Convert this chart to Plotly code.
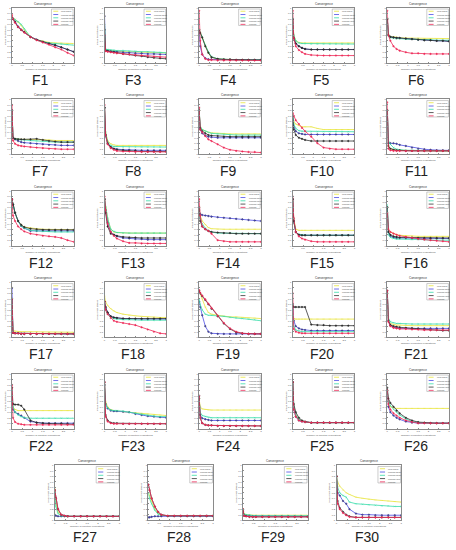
import plotly.graph_objects as go

# iteration grid (x 10^5 function evaluations) shared by every panel
X = [0, 0.05, 0.15, 0.3, 0.45, 0.6, 0.9, 1.2, 1.5, 1.8, 2.1, 2.4, 2.7, 3.0]

ALGOS = ["PSO-sCSO", "MSCSO-gbest", "MSCSO-pbest", "MSCSO-rand", "MSCSO"]
COLORS = ["#e9e43a", "#4b4be6", "#35dca8", "#333333", "#ee2a58"]
SYMBOLS = ["line-ew", "circle", "x-thin", "circle", "circle"]

# normalised mean best fitness per function: Y, B, G, K, R series
F1 = dict(Y=[.82, .81, .79, .74, .68, .6, .47, .42, .39, .37, .36, .36, .35, .35],
          B=[.82, .8, .75, .66, .6, .56, .47, .42, .38, .35, .32, .28, .24, .2],
          G=[.82, .81, .79, .75, .7, .62, .47, .41, .38, .36, .35, .34, .33, .32],
          K=[.82, .8, .74, .65, .6, .56, .47, .42, .38, .35, .32, .28, .24, .2],
          R=[.87, .8, .73, .65, .6, .55, .47, .41, .37, .33, .28, .24, .18, .13])
F3 = dict(Y=[.7, .24, .23, .22, .22, .21, .2, .2, .19, .19, .19, .18, .18, .18],
          B=[.85, .23, .22, .21, .2, .2, .19, .18, .17, .17, .16, .16, .15, .15],
          G=[.68, .24, .24, .23, .23, .22, .22, .21, .21, .2, .2, .19, .19, .18],
          K=[.6, .22, .21, .2, .19, .18, .16, .15, .13, .12, .1, .09, .08, .07],
          R=[.5, .21, .2, .19, .18, .17, .16, .15, .14, .13, .12, .11, .1, .1])
F4 = dict(Y=[.6, .55, .45, .3, .18, .1, .07, .06, .06, .05, .05, .05, .05, .05],
          B=[.6, .3, .15, .08, .06, .06, .05, .05, .05, .05, .05, .05, .05, .05],
          G=[.6, .55, .48, .32, .2, .11, .07, .06, .06, .05, .05, .05, .05, .05],
          K=[.6, .54, .46, .3, .18, .1, .07, .06, .06, .05, .05, .05, .05, .05],
          R=[.95, .4, .15, .07, .05, .05, .04, .04, .04, .04, .04, .04, .04, .04])
F5 = dict(Y=[.8, .5, .4, .37, .36, .36, .36, .36, .36, .36, .36, .36, .36, .36],
          B=[.8, .45, .35, .3, .27, .25, .24, .24, .24, .24, .24, .24, .24, .24],
          G=[.8, .5, .4, .36, .35, .35, .34, .34, .34, .34, .34, .34, .34, .34],
          K=[.8, .45, .35, .3, .27, .25, .24, .24, .24, .24, .24, .24, .24, .24],
          R=[.95, .45, .3, .23, .19, .16, .14, .13, .13, .13, .13, .13, .13, .13])
F6 = dict(Y=[.8, .52, .48, .47, .46, .46, .45, .45, .45, .44, .44, .44, .44, .44],
          B=[.8, .5, .47, .46, .45, .45, .44, .43, .42, .41, .41, .4, .4, .39],
          G=[.8, .5, .46, .45, .44, .44, .43, .43, .42, .42, .42, .41, .41, .41],
          K=[.8, .5, .47, .46, .45, .45, .44, .43, .42, .41, .41, .4, .4, .39],
          R=[.95, .5, .4, .3, .25, .22, .19, .17, .17, .16, .16, .16, .16, .16])
F7 = dict(Y=[.8, .3, .28, .27, .27, .27, .27, .27, .26, .26, .25, .25, .25, .25],
          B=[.8, .3, .27, .24, .22, .21, .2, .19, .18, .17, .17, .16, .16, .16],
          G=[.8, .3, .28, .27, .26, .26, .25, .24, .23, .22, .22, .22, .22, .22],
          K=[.8, .3, .28, .27, .27, .27, .27, .28, .26, .24, .23, .22, .22, .22],
          R=[.9, .25, .19, .16, .15, .14, .13, .12, .11, .1, .1, .09, .09, .09])
F8 = dict(Y=[.85, .4, .25, .19, .17, .16, .16, .16, .16, .16, .16, .16, .16, .16],
          B=[.85, .35, .2, .13, .1, .09, .08, .08, .07, .07, .07, .07, .07, .07],
          G=[.85, .4, .22, .16, .14, .14, .13, .13, .13, .13, .13, .13, .13, .13],
          K=[.85, .35, .2, .13, .1, .08, .07, .06, .06, .05, .05, .05, .05, .05],
          R=[.9, .35, .18, .11, .08, .06, .05, .05, .04, .04, .04, .04, .04, .04])
F9 = dict(Y=[.8, .5, .45, .42, .4, .39, .38, .38, .37, .37, .37, .37, .37, .37],
          B=[.8, .45, .38, .34, .32, .31, .3, .3, .3, .3, .3, .3, .3, .3],
          G=[.85, .5, .45, .42, .4, .38, .37, .36, .35, .35, .35, .35, .35, .35],
          K=[.8, .48, .42, .38, .35, .34, .33, .32, .32, .32, .32, .32, .32, .32],
          R=[.85, .45, .4, .33, .27, .24, .18, .12, .08, .06, .05, .04, .04, .03])
F10 = dict(Y=[.7, .6, .55, .52, .5, .5, .5, .47, .45, .45, .45, .45, .45, .45],
           B=[.7, .5, .42, .38, .37, .36, .36, .36, .36, .36, .36, .36, .36, .36],
           G=[.7, .55, .47, .43, .42, .42, .41, .41, .41, .41, .41, .41, .41, .41],
           K=[.7, .45, .35, .3, .28, .26, .24, .24, .24, .24, .24, .24, .24, .24],
           R=[.75, .7, .62, .55, .48, .42, .32, .2, .12, .1, .09, .09, .09, .09])
F11 = dict(Y=[.8, .15, .1, .08, .07, .07, .07, .06, .06, .06, .06, .06, .06, .06],
           B=[.8, .2, .2, .2, .19, .17, .15, .12, .1, .09, .08, .07, .07, .07],
           G=[.8, .25, .18, .12, .09, .08, .07, .07, .07, .06, .06, .06, .06, .06],
           K=[.8, .15, .1, .08, .07, .07, .06, .06, .06, .06, .06, .06, .06, .06],
           R=[.95, .1, .07, .06, .06, .06, .06, .06, .06, .06, .06, .06, .06, .06])
F12 = dict(Y=[.85, .75, .6, .45, .38, .34, .32, .31, .3, .3, .3, .3, .29, .29],
           B=[.85, .75, .6, .45, .36, .32, .27, .27, .27, .27, .27, .27, .27, .27],
           G=[.85, .75, .6, .45, .36, .32, .28, .27, .26, .26, .25, .25, .25, .25],
           K=[.85, .75, .6, .45, .38, .34, .31, .3, .29, .29, .29, .29, .29, .29],
           R=[.85, .55, .45, .35, .3, .26, .22, .2, .18, .17, .16, .14, .1, .07])
F13 = dict(Y=[.85, .7, .5, .3, .25, .24, .23, .23, .23, .23, .23, .23, .23, .23],
           B=[.85, .65, .42, .25, .2, .17, .14, .13, .12, .12, .11, .11, .11, .11],
           G=[.85, .7, .5, .3, .26, .24, .23, .23, .23, .23, .23, .23, .23, .23],
           K=[.85, .6, .35, .22, .2, .18, .16, .15, .15, .14, .14, .14, .14, .14],
           R=[.9, .65, .4, .25, .18, .13, .08, .05, .05, .04, .04, .04, .04, .04])
F14 = dict(Y=[.7, .55, .45, .38, .33, .31, .3, .3, .3, .3, .3, .3, .3, .3],
           B=[.65, .58, .56, .55, .54, .53, .52, .51, .5, .49, .48, .47, .46, .45],
           G=[.7, .5, .4, .32, .27, .25, .23, .23, .23, .22, .22, .22, .22, .22],
           K=[.7, .45, .35, .3, .27, .25, .24, .23, .23, .22, .22, .22, .22, .22],
           R=[.85, .55, .35, .3, .27, .22, .1, .08, .07, .07, .07, .07, .07, .07])
F15 = dict(Y=[.85, .5, .3, .28, .28, .28, .28, .28, .28, .28, .28, .28, .28, .28],
           B=[.85, .45, .25, .2, .19, .19, .19, .19, .19, .19, .19, .19, .19, .19],
           G=[.85, .45, .25, .2, .2, .19, .19, .19, .19, .19, .19, .19, .19, .19],
           K=[.85, .45, .25, .2, .19, .19, .19, .19, .19, .19, .19, .19, .19, .19],
           R=[.9, .5, .25, .17, .13, .11, .08, .07, .07, .07, .07, .07, .07, .07])
F16 = dict(Y=[.7, .3, .25, .22, .2, .19, .18, .18, .17, .17, .17, .17, .17, .17],
           B=[.7, .25, .18, .15, .14, .14, .14, .13, .13, .13, .13, .13, .13, .13],
           G=[.75, .2, .15, .13, .12, .12, .12, .11, .11, .11, .1, .1, .1, .1],
           K=[.7, .25, .2, .17, .16, .15, .15, .15, .14, .14, .14, .14, .14, .14],
           R=[.6, .3, .25, .22, .2, .18, .16, .14, .12, .11, .1, .09, .08, .07])
F17 = dict(Y=[.6, .12, .11, .1, .1, .1, .1, .1, .09, .09, .09, .09, .09, .09],
           B=[.9, .08, .07, .07, .06, .06, .06, .06, .06, .06, .06, .06, .06, .06],
           G=[.7, .08, .07, .07, .06, .06, .06, .06, .06, .06, .06, .06, .06, .06],
           K=[.7, .08, .07, .07, .06, .06, .06, .06, .06, .06, .06, .06, .06, .06],
           R=[.7, .08, .07, .07, .06, .06, .06, .06, .06, .06, .06, .06, .06, .06])
F18 = dict(Y=[.75, .65, .58, .52, .48, .45, .42, .4, .39, .38, .37, .37, .36, .36],
           B=[.65, .55, .45, .38, .36, .35, .34, .34, .33, .33, .33, .33, .33, .33],
           G=[.6, .5, .42, .36, .34, .33, .32, .32, .31, .31, .31, .31, .31, .31],
           K=[.65, .55, .45, .38, .36, .35, .34, .34, .34, .34, .34, .34, .34, .34],
           R=[.65, .5, .42, .35, .3, .28, .26, .24, .22, .18, .14, .1, .07, .06])
F19 = dict(Y=[.85, .8, .7, .55, .45, .42, .4, .38, .37, .37, .36, .35, .35, .34],
           B=[.65, .55, .4, .2, .1, .07, .06, .06, .06, .06, .06, .06, .06, .06],
           G=[.7, .6, .5, .42, .4, .4, .39, .38, .36, .35, .34, .33, .32, .3],
           K=[.85, .8, .75, .68, .6, .52, .38, .25, .15, .09, .07, .06, .06, .06],
           R=[.86, .81, .76, .69, .61, .53, .39, .26, .16, .1, .07, .06, .06, .06])
F20 = dict(Y=[.4, .34, .33, .33, .33, .33, .33, .33, .33, .33, .33, .33, .33, .33],
           B=[.6, .3, .2, .16, .14, .13, .12, .12, .12, .12, .12, .12, .12, .12],
           G=[.5, .2, .13, .11, .1, .1, .1, .1, .1, .1, .1, .1, .1, .1],
           K=[.6, .55, .55, .55, .55, .55, .23, .22, .22, .21, .21, .21, .21, .21],
           R=[.8, .15, .1, .08, .07, .07, .07, .07, .07, .07, .07, .07, .07, .07])
F21 = dict(Y=[.8, .3, .25, .23, .22, .22, .21, .21, .21, .21, .21, .21, .21, .21],
           B=[.8, .3, .22, .18, .17, .16, .16, .16, .16, .16, .16, .16, .16, .16],
           G=[.8, .35, .28, .26, .25, .25, .24, .24, .24, .24, .24, .24, .24, .24],
           K=[.85, .3, .22, .2, .19, .18, .17, .16, .15, .14, .13, .13, .12, .12],
           R=[.85, .28, .2, .17, .16, .15, .15, .14, .14, .13, .13, .13, .13, .13])
F22 = dict(Y=[.6, .4, .35, .33, .33, .33, .33, .33, .33, .33, .33, .33, .33, .33],
           B=[.6, .35, .3, .27, .24, .2, .13, .11, .1, .1, .1, .1, .1, .1],
           G=[.6, .4, .3, .25, .22, .2, .19, .19, .19, .19, .19, .19, .19, .19],
           K=[.75, .45, .44, .44, .42, .35, .15, .11, .1, .09, .09, .09, .08, .08],
           R=[.8, .2, .12, .09, .08, .07, .07, .07, .07, .07, .07, .07, .07, .07])
F23 = dict(Y=[.8, .5, .4, .35, .33, .32, .31, .3, .29, .28, .27, .26, .25, .24],
           B=[.8, .45, .37, .33, .32, .32, .31, .3, .27, .25, .23, .22, .21, .2],
           G=[.8, .45, .38, .34, .33, .33, .32, .3, .28, .26, .24, .23, .22, .22],
           K=[.85, .25, .15, .11, .1, .1, .09, .09, .09, .09, .09, .09, .09, .09],
           R=[.85, .22, .13, .1, .09, .09, .09, .09, .09, .09, .09, .09, .09, .09])
F24 = dict(Y=[.55, .4, .36, .35, .34, .34, .34, .34, .34, .34, .34, .34, .34, .34],
           B=[.55, .25, .19, .17, .16, .15, .15, .15, .15, .15, .15, .15, .15, .15],
           G=[.55, .3, .24, .22, .21, .2, .2, .2, .2, .2, .2, .2, .2, .2],
           K=[.6, .2, .1, .07, .06, .06, .05, .05, .05, .05, .05, .05, .05, .05],
           R=[.6, .2, .1, .07, .06, .06, .05, .05, .05, .05, .05, .05, .05, .05])
F25 = dict(Y=[.85, .4, .25, .17, .14, .12, .11, .11, .11, .11, .11, .11, .11, .11],
           B=[.85, .35, .22, .15, .13, .12, .11, .11, .11, .11, .11, .11, .11, .11],
           G=[.85, .4, .25, .17, .14, .12, .11, .11, .11, .11, .11, .11, .11, .11],
           K=[.85, .45, .3, .2, .15, .13, .11, .11, .11, .11, .11, .11, .11, .11],
           R=[.85, .35, .22, .15, .13, .12, .11, .11, .11, .11, .11, .11, .11, .11])
F26 = dict(Y=[.7, .45, .4, .38, .37, .37, .37, .37, .37, .37, .37, .37, .37, .37],
           B=[.7, .4, .3, .24, .2, .17, .13, .11, .1, .1, .1, .1, .1, .1],
           G=[.7, .5, .42, .35, .3, .25, .18, .13, .11, .1, .1, .1, .1, .1],
           K=[.75, .55, .47, .4, .33, .28, .2, .15, .12, .11, .1, .1, .1, .1],
           R=[.7, .45, .35, .28, .24, .2, .15, .12, .1, .1, .1, .1, .1, .1])
F27 = dict(Y=[.6, .3, .15, .08, .07, .07, .07, .07, .07, .07, .07, .07, .07, .07],
           B=[.1, .08, .07, .07, .07, .07, .07, .07, .07, .07, .07, .07, .07, .07],
           G=[.5, .25, .12, .08, .07, .07, .07, .07, .07, .07, .07, .07, .07, .07],
           K=[.55, .4, .2, .1, .08, .07, .07, .07, .07, .07, .07, .07, .07, .07],
           R=[.55, .4, .2, .1, .08, .07, .07, .07, .07, .07, .07, .07, .07, .07])
F28 = dict(Y=[.5, .45, .35, .2, .12, .09, .08, .08, .08, .08, .08, .08, .08, .08],
           B=[.05, .05, .06, .07, .07, .07, .07, .07, .07, .07, .07, .07, .07, .07],
           G=[.5, .4, .3, .18, .11, .09, .08, .08, .08, .08, .08, .08, .08, .08],
           K=[.65, .55, .4, .25, .15, .1, .08, .08, .08, .08, .08, .08, .08, .08],
           R=[.65, .55, .4, .25, .15, .1, .08, .08, .08, .08, .08, .08, .08, .08])
F29 = dict(Y=[.2, .12, .1, .09, .09, .09, .09, .09, .09, .09, .09, .09, .09, .09],
           B=[.15, .09, .08, .08, .07, .07, .07, .07, .07, .07, .07, .07, .07, .07],
           G=[.18, .11, .1, .09, .08, .08, .08, .08, .08, .08, .08, .08, .08, .08],
           K=[.2, .08, .07, .06, .06, .06, .06, .06, .06, .06, .06, .06, .06, .06],
           R=[.2, .08, .07, .06, .06, .06, .06, .06, .06, .06, .06, .06, .06, .06])
F30 = dict(Y=[.8, .7, .62, .55, .5, .47, .42, .4, .38, .37, .36, .35, .34, .33],
           B=[.8, .5, .45, .35, .3, .2, .12, .1, .1, .09, .09, .09, .09, .09],
           G=[.8, .6, .5, .45, .42, .33, .3, .29, .28, .27, .26, .26, .25, .25],
           K=[.8, .35, .22, .15, .1, .07, .05, .05, .05, .05, .05, .05, .05, .05],
           R=[.8, .3, .2, .13, .09, .06, .05, .05, .05, .05, .05, .05, .05, .05])

PANELS = [("F1", F1), ("F3", F3), ("F4", F4), ("F5", F5), ("F6", F6),
          ("F7", F7), ("F8", F8), ("F9", F9), ("F10", F10), ("F11", F11),
          ("F12", F12), ("F13", F13), ("F14", F14), ("F15", F15), ("F16", F16),
          ("F17", F17), ("F18", F18), ("F19", F19), ("F20", F20), ("F21", F21),
          ("F22", F22), ("F23", F23), ("F24", F24), ("F25", F25), ("F26", F26),
          ("F27", F27), ("F28", F28), ("F29", F29), ("F30", F30)]

W, H = 456, 550
ROW_TOP = [7, 99, 191, 283, 375, 467]
COL_LEFT = [11, 104, 199, 293, 388]
LAST_LEFT = [54, 148, 243, 337]
PH = 55

tiny = dict(family="Liberation Sans, Arial, sans-serif", size=2.5, color="#555")

fig = go.Figure()
layout = {}
annotations = []
shapes = []

for i, (name, d) in enumerate(PANELS):
    n = i + 1
    r, c = divmod(i, 5)
    if r < 5:
        left, pw = COL_LEFT[c], 62
    else:
        left, pw = LAST_LEFT[c], 65
    top = ROW_TOP[r]
    sfx = "" if n == 1 else str(n)
    xa, ya = "x" + sfx, "y" + sfx

    for k, key in enumerate(["Y", "B", "G", "K", "R"]):
        fig.add_trace(go.Scatter(
            x=X, y=d[key], xaxis=xa, yaxis=ya, mode="lines+markers",
            name=ALGOS[k], showlegend=False,
            line=dict(color=COLORS[k], width=0.8),
            marker=dict(size=1.6, color=COLORS[k], symbol=SYMBOLS[k],
                        line=dict(width=0.4, color="#222" if k in (1, 3) else COLORS[k])),
        ))

    axis_common = dict(showgrid=False, zeroline=False, showline=True, mirror=True,
                       linecolor="#8a8a8a", linewidth=0.6, ticks="inside", ticklen=1,
                       tickcolor="#8a8a8a", tickfont=tiny)
    layout["xaxis" + sfx] = dict(axis_common, anchor=ya, range=[0, 3], dtick=0.5,
                                 domain=[left / W, (left + pw) / W],
                                 title=dict(text="Number of function evaluations",
                                            font=tiny, standoff=1))
    layout["yaxis" + sfx] = dict(axis_common, anchor=xa, range=[0, 1], dtick=0.1,
                                 domain=[1 - (top + PH) / H, 1 - top / H],
                                 title=dict(text="Mean best fitness", font=tiny, standoff=1))

    annotations.append(dict(text="Convergence", x=0.5, y=1.0, xref=xa + " domain",
                            yref=ya + " domain", xanchor="center", yanchor="bottom",
                            showarrow=False, font=dict(tiny, size=3, color="#333")))
    annotations.append(dict(text=name, x=(left + pw / 2 - 2) / W, y=1 - (top + PH + 17) / H,
                            xref="paper", yref="paper", xanchor="center", yanchor="middle",
                            showarrow=False,
                            font=dict(family="Liberation Sans, Arial, sans-serif",
                                      size=14, color="#222")))

    # legend box drawn inside the axes (top-right)
    shapes.append(dict(type="rect", xref=xa + " domain", yref=ya + " domain",
                       x0=0.64, x1=0.99, y0=0.68, y1=0.98,
                       line=dict(color="#9a9a9a", width=0.5), fillcolor="white"))
    for k in range(5):
        yy = 0.94 - k * 0.06
        shapes.append(dict(type="line", xref=xa + " domain", yref=ya + " domain",
                           x0=0.67, x1=0.75, y0=yy, y1=yy,
                           line=dict(color=COLORS[k], width=0.8)))
        annotations.append(dict(text=ALGOS[k], x=0.77, y=yy, xref=xa + " domain",
                                yref=ya + " domain", xanchor="left", yanchor="middle",
                                showarrow=False, font=dict(tiny, size=2)))

fig.update_layout(
    width=W, height=H,
    margin=dict(l=0, r=0, t=0, b=0),
    paper_bgcolor="white",
    plot_bgcolor="white",
    showlegend=False,
    annotations=annotations,
    shapes=shapes,
    **layout,
)

fig.write_html("out.html", config={"displayModeBar": False},
               post_script="document.body.style.margin='0';")
